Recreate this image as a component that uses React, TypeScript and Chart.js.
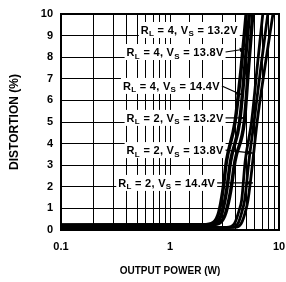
import React, { useEffect, useRef } from 'react';
import { Chart, registerables } from 'chart.js';

Chart.register(...registerables);

const FONT = "'Liberation Sans', Arial, Helvetica, sans-serif";

// Output power (W) / distortion (%) pairs
const rl4vs132: [number, number][] = [[0.1, 0.22], [2.0, 0.24], [2.5, 0.35], [2.8, 0.8], [3.05, 1.8], [3.3, 3.2], [3.95, 5], [4.5, 7.5], [5.0, 10]];
const rl4vs138: [number, number][] = [[0.1, 0.22], [2.2, 0.24], [2.7, 0.35], [3.0, 0.8], [3.3, 1.8], [3.6, 3.2], [4.35, 5], [4.85, 7.5], [5.35, 10]];
const rl4vs144: [number, number][] = [[0.1, 0.22], [2.4, 0.24], [2.9, 0.35], [3.25, 0.8], [3.6, 1.8], [3.95, 3.2], [4.8, 5], [5.25, 7.5], [5.75, 10]];
const rl2vs132: [number, number][] = [[0.1, 0.1], [3.3, 0.12], [3.9, 0.3], [4.3, 0.9], [4.55, 1.4], [4.9, 3.2], [5.6, 5], [6.3, 7.5], [7.1, 10]];
const rl2vs138: [number, number][] = [[0.1, 0.1], [3.6, 0.12], [4.2, 0.3], [4.6, 0.9], [4.85, 1.4], [5.3, 3.2], [5.9, 5], [6.8, 7.5], [7.9, 10]];
const rl2vs144: [number, number][] = [[0.1, 0.1], [3.9, 0.12], [4.5, 0.3], [4.95, 0.9], [5.2, 1.4], [5.75, 3.2], [6.3, 5], [7.4, 7.5], [8.8, 10]];

const seriesList = [rl4vs132, rl4vs138, rl4vs144, rl2vs132, rl2vs138, rl2vs144];
const seriesWidth = [3.5, 3.5, 3.5, 2.8, 2.8, 2.8];

const xLabeledTicks = [0.1, 1, 10];
const yTickStep = 1;

// Curve labels
const labelRL = ['4', '4', '4', '2', '2', '2'];
const labelVS = ['13.2V', '13.8V', '14.4V', '13.2V', '13.8V', '14.4V'];
const labelAtW = [0.54, 0.4, 0.37, 0.4, 0.4, 0.335];
const labelAtPct = [9.26, 8.24, 6.67, 5.19, 3.7, 2.18];
const arrowToW: (number | null)[] = [null, 4.95, 4.58, 4.85, 5.77, 5.77];
const arrowToPct: (number | null)[] = [null, 8.38, 6.25, 5.19, 3.56, 2.18];

const MAIN_FONT = `bold 11px ${FONT}`;
const SUB_FONT = `bold 8px ${FONT}`;

function labelParts(i: number) {
  return [
    { t: 'R', sub: false },
    { t: 'L', sub: true },
    { t: ` = ${labelRL[i]}, V`, sub: false },
    { t: 'S', sub: true },
    { t: ` = ${labelVS[i]}`, sub: false },
  ];
}

const labelEnds: number[] = [];

const labelPlugin = {
  id: 'curveLabels',
  beforeDatasetsDraw(chart: any) {
    const { ctx, scales } = chart;
    const xs = scales.x, ys = scales.y;
    ctx.save();
    (ctx as any).letterSpacing = '0.3px';
    labelRL.forEach((_, i) => {
      const x0 = xs.getPixelForValue(labelAtW[i]);
      const yc = ys.getPixelForValue(labelAtPct[i]);
      const parts = labelParts(i);
      let w = 0;
      parts.forEach((p) => {
        ctx.font = p.sub ? SUB_FONT : MAIN_FONT;
        w += ctx.measureText(p.t).width;
      });
      ctx.fillStyle = '#fff';
      ctx.fillRect(x0 - 2, yc - 8, w + 4, 16);
      ctx.fillStyle = '#000';
      ctx.textBaseline = 'alphabetic';
      ctx.textAlign = 'left';
      let cx = x0;
      parts.forEach((p) => {
        ctx.font = p.sub ? SUB_FONT : MAIN_FONT;
        ctx.fillText(p.t, cx, yc + (p.sub ? 6.5 : 4));
        cx += ctx.measureText(p.t).width;
      });
      labelEnds[i] = cx;
    });
    ctx.restore();
  },
  afterDatasetsDraw(chart: any) {
    const { ctx, scales, chartArea } = chart;
    const xs = scales.x, ys = scales.y;
    ctx.save();
    labelRL.forEach((_, i) => {
      const tw = arrowToW[i], tp = arrowToPct[i];
      if (tw == null || tp == null) return;
      const sx = labelEnds[i] + 2;
      const sy = ys.getPixelForValue(labelAtPct[i]);
      const tx = xs.getPixelForValue(tw);
      const ty = ys.getPixelForValue(tp);
      ctx.strokeStyle = '#000';
      ctx.lineWidth = 1.2;
      ctx.beginPath();
      ctx.moveTo(sx, sy);
      ctx.lineTo(tx, ty);
      ctx.stroke();
      const ang = Math.atan2(ty - sy, tx - sx);
      const hl = 6, hw = 2.2;
      ctx.fillStyle = '#000';
      ctx.beginPath();
      ctx.moveTo(tx, ty);
      ctx.lineTo(tx - hl * Math.cos(ang) + hw * Math.sin(ang), ty - hl * Math.sin(ang) - hw * Math.cos(ang));
      ctx.lineTo(tx - hl * Math.cos(ang) - hw * Math.sin(ang), ty - hl * Math.sin(ang) + hw * Math.cos(ang));
      ctx.closePath();
      ctx.fill();
    });
    // frame
    ctx.strokeStyle = '#000';
    ctx.lineWidth = 2;
    ctx.strokeRect(chartArea.left, chartArea.top, chartArea.right - chartArea.left, chartArea.bottom - chartArea.top);
    ctx.restore();
  },
};

function isLabeled(v: number) {
  return xLabeledTicks.some((t) => Math.abs(Math.log10(v) - Math.log10(t)) < 1e-6);
}

export default function App() {
  const ref = useRef<HTMLCanvasElement | null>(null);
  useEffect(() => {
    document.body.style.margin = '0';
    if (!ref.current) return;
    const chart = new Chart(ref.current, {
      type: 'line',
      data: {
        datasets: seriesList.map((s, i) => ({
          data: s.map(([x, y]) => ({ x, y })),
          borderColor: '#000',
          borderWidth: seriesWidth[i],
          pointRadius: 0,
          fill: false,
          cubicInterpolationMode: 'monotone' as const,
        })),
      },
      options: {
        animation: false,
        responsive: false,
        layout: { padding: { top: 14, right: 7, left: 0, bottom: 0 } },
        plugins: { legend: { display: false }, tooltip: { enabled: false } },
        scales: {
          x: {
            type: 'logarithmic',
            min: 0.1,
            max: 10,
            grid: { color: '#000', lineWidth: 1, drawTicks: false },
            border: { color: '#000', width: 2 },
            ticks: {
              autoSkip: false,
              maxRotation: 0,
              padding: 10,
              color: '#000',
              font: { family: FONT, size: 11, weight: 'bold' },
              callback: (v: any) => (isLabeled(Number(v)) ? String(Number(v)) : ''),
            },
            title: {
              display: true,
              text: 'OUTPUT POWER (W)',
              color: '#000',
              font: { family: FONT, size: 10, weight: 'bold' },
              padding: { top: 0, bottom: 5 },
            },
            afterFit: (s: any) => { s.height = 52; s.paddingLeft = 0; s.paddingRight = 0; },
          },
          y: {
            type: 'linear',
            min: 0,
            max: 10,
            grid: { color: '#000', lineWidth: 1, drawTicks: false },
            border: { color: '#000', width: 2 },
            ticks: {
              stepSize: yTickStep,
              padding: 8,
              color: '#000',
              font: { family: FONT, size: 11, weight: 'bold' },
            },
            title: {
              display: true,
              text: 'DISTORTION (%)',
              color: '#000',
              font: { family: FONT, size: 12, weight: 'bold' },
              padding: { top: 7, bottom: 0 },
            },
            afterFit: (s: any) => { s.width = 61; s.paddingTop = 0; s.paddingBottom = 0; },
          },
        },
      },
      plugins: [labelPlugin],
    } as any);
    return () => chart.destroy();
  }, []);
  return (
    <div style={{ width: 286, height: 282 }}>
      <canvas ref={ref} width={286} height={282} style={{ display: 'block' }} />
    </div>
  );
}
